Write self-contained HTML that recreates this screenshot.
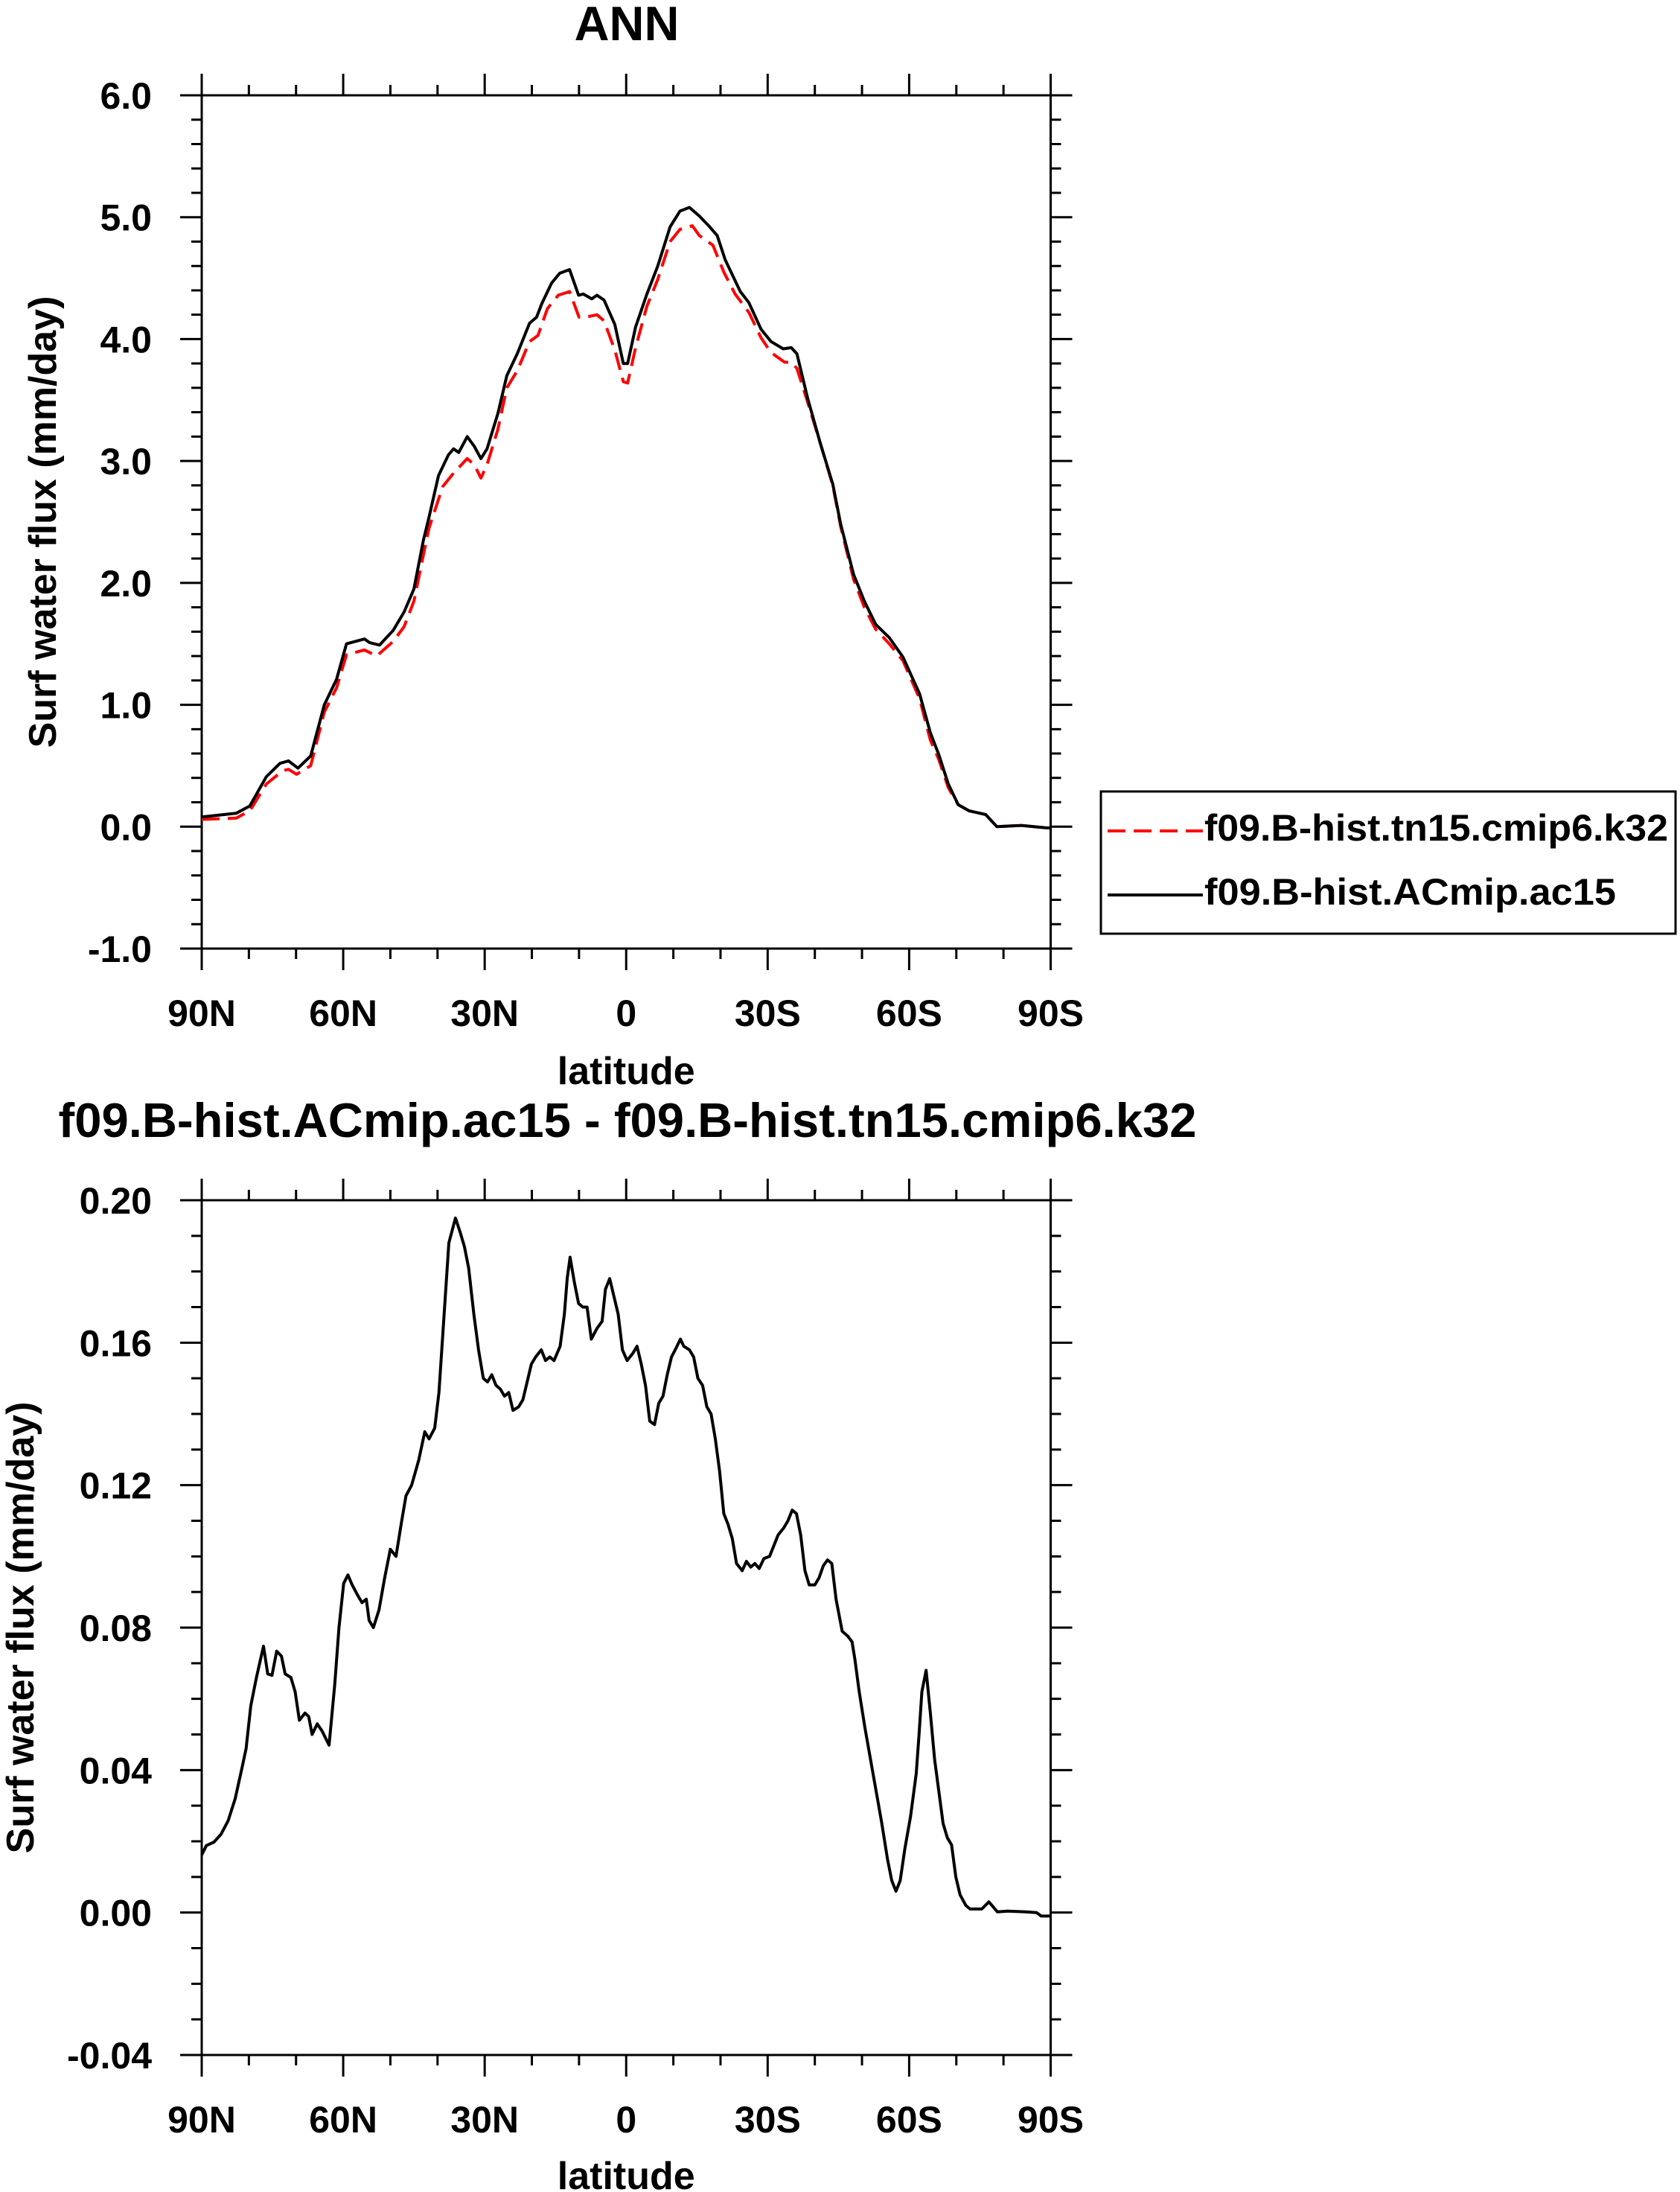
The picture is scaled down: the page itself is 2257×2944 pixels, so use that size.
<!DOCTYPE html>
<html><head><meta charset="utf-8"><style>
html,body{margin:0;padding:0;background:#fff;}
svg{display:block;font-family:"Liberation Sans",Arial,sans-serif;font-weight:bold;}
</style></head><body>
<svg id="fig" width="2257" height="2944" viewBox="0 0 2257 2944" xmlns="http://www.w3.org/2000/svg">
<rect width="2257" height="2944" fill="#fff"/>
<g id="top"></g>
<g id="bot"></g>
</svg>
<script>
// ---- data (latitude in degrees, +N / -S) ----
const latTicks = [90,60,30,0,-30,-60,-90];
const latTickLabels = ["90N","60N","30N","0","30S","60S","90S"];
const topYTicks = [-1,0,1,2,3,4,5,6];
const topYTickLabels = ["-1.0","0.0","1.0","2.0","3.0","4.0","5.0","6.0"];
const botYTicks = [-0.04,0,0.04,0.08,0.12,0.16,0.20];
const botYTickLabels = ["-0.04","0.00","0.04","0.08","0.12","0.16","0.20"];

const blackLat = [90,82.7,79.8,76.3,73.4,71.6,69.6,66.9,64.0,61.4,59.3,55.5,54.4,52.3,49.4,47.1,45.0,43.0,41.8,39.8,37.7,36.6,35.5,33.7,32.2,30.8,29.5,27.2,25.3,23.1,20.5,19.0,17.9,15.8,14.1,12.0,10.1,9.1,7.3,6.2,4.7,2.4,0.6,-0.3,-2.0,-4.4,-6.7,-9.3,-11.4,-13.4,-15.5,-17.5,-19.3,-21.0,-24.2,-26.0,-28.6,-30.7,-33.3,-35.0,-36.2,-38.5,-41.2,-43.8,-45.5,-48.2,-50.5,-52.9,-55.8,-58.7,-62.2,-64.5,-66.3,-68.3,-70.4,-72.7,-76.2,-78.6,-83.8,-89.1,-90];
const blackVal = [0.08,0.11,0.17,0.41,0.52,0.54,0.48,0.58,1.0,1.21,1.50,1.54,1.51,1.49,1.61,1.76,1.95,2.35,2.54,2.88,3.05,3.10,3.07,3.20,3.12,3.02,3.10,3.39,3.70,3.88,4.13,4.18,4.29,4.46,4.54,4.57,4.36,4.37,4.33,4.36,4.32,4.12,3.80,3.80,4.10,4.37,4.60,4.92,5.05,5.08,5.01,4.93,4.85,4.65,4.39,4.30,4.08,3.98,3.92,3.93,3.88,3.51,3.14,2.81,2.48,2.07,1.85,1.66,1.55,1.39,1.09,0.77,0.59,0.35,0.18,0.13,0.10,0.0,0.01,-0.01,-0.01];

const redLat = [90,82.7,79.8,76.3,72.8,71.6,69.9,66.9,64.0,61.4,59.3,55.5,52.9,49.4,47.1,45.0,43.0,41.8,38.9,36.6,33.7,32.2,30.8,29.5,27.2,25.3,23.1,20.5,18.7,16.7,14.4,12.0,10.0,8.5,6.2,4.7,2.4,0.6,-0.3,-2.0,-4.4,-6.7,-9.3,-11.4,-14.0,-15.5,-18.4,-20.7,-23.1,-26.0,-28.6,-30.7,-33.6,-35.0,-36.2,-38.5,-41.2,-43.8,-45.5,-48.2,-50.5,-52.9,-55.8,-58.7,-62.2,-64.5,-66.3,-68.3,-70.4,-72.7,-76.2,-78.6,-83.8,-89.1,-90];
const redVal = [0.06,0.07,0.13,0.35,0.46,0.47,0.43,0.50,0.94,1.14,1.41,1.45,1.40,1.52,1.64,1.85,2.23,2.45,2.79,2.90,3.02,2.97,2.86,2.97,3.26,3.60,3.74,3.98,4.03,4.25,4.36,4.39,4.18,4.18,4.20,4.15,3.91,3.65,3.64,3.93,4.27,4.49,4.80,4.90,4.93,4.85,4.77,4.55,4.37,4.22,4.01,3.89,3.81,3.81,3.76,3.48,3.14,2.80,2.46,2.03,1.80,1.62,1.50,1.36,1.05,0.71,0.55,0.32,0.18,0.13,0.10,0.0,0.01,-0.01,-0.01];

const diffLat = [90,89.0,87.4,85.9,84.4,82.9,81.4,80.6,79.6,78.4,76.9,76.0,75.1,74.1,73.1,72.3,71.1,70.2,69.3,68.1,67.3,66.6,65.5,64.5,63.0,61.8,60.9,59.9,59.0,58.1,56.9,56.0,55.1,54.5,53.6,52.4,51.2,50.0,48.8,47.6,46.7,45.5,44.0,42.7,41.8,40.6,39.7,38.8,37.6,36.2,35.2,34.3,33.4,32.3,31.3,30.3,29.4,28.5,27.6,26.7,25.8,24.9,24.0,22.8,21.9,21.0,20.1,19.2,18.0,17.1,16.2,15.3,14.0,13.1,12.5,11.9,11.0,10.1,9.2,8.3,7.4,6.2,5.1,4.4,3.5,2.6,1.7,0.8,-0.2,-1.4,-2.3,-3.2,-4.1,-5.0,-6.0,-6.9,-7.8,-8.7,-9.6,-10.4,-11.5,-12.2,-13.4,-14.3,-15.2,-16.2,-17.1,-18.0,-18.9,-19.8,-20.7,-21.6,-22.5,-23.4,-24.6,-25.5,-26.4,-27.3,-28.2,-29.2,-30.4,-31.3,-32.2,-33.4,-34.3,-35.2,-36.1,-37.0,-37.9,-38.8,-40.0,-40.9,-41.8,-42.7,-43.6,-44.5,-45.8,-47.0,-47.9,-48.5,-49.4,-50.6,-51.8,-53.0,-54.2,-55.4,-56.3,-57.2,-58.1,-59.1,-60.3,-61.5,-62.1,-62.7,-63.6,-64.5,-65.4,-66.3,-67.2,-68.1,-69.0,-69.9,-70.8,-72.0,-72.9,-75.4,-76.9,-78.7,-80.9,-84.7,-87.0,-88.0,-90];
const diffVal = [0.0162,0.0188,0.0198,0.022,0.0258,0.032,0.041,0.046,0.058,0.066,0.0748,0.067,0.0666,0.0734,0.072,0.067,0.066,0.062,0.054,0.056,0.055,0.050,0.053,0.051,0.047,0.064,0.080,0.0924,0.0948,0.092,0.089,0.087,0.088,0.082,0.080,0.085,0.094,0.102,0.100,0.110,0.117,0.120,0.127,0.135,0.133,0.136,0.146,0.164,0.188,0.195,0.191,0.187,0.181,0.168,0.158,0.150,0.149,0.151,0.148,0.147,0.145,0.146,0.141,0.142,0.144,0.149,0.154,0.156,0.158,0.155,0.156,0.155,0.159,0.168,0.178,0.184,0.177,0.171,0.170,0.170,0.161,0.164,0.166,0.175,0.178,0.173,0.168,0.158,0.155,0.157,0.159,0.154,0.148,0.138,0.137,0.143,0.145,0.151,0.156,0.158,0.161,0.159,0.158,0.156,0.150,0.148,0.142,0.140,0.133,0.124,0.112,0.109,0.105,0.098,0.096,0.0986,0.097,0.098,0.0966,0.0994,0.100,0.103,0.106,0.108,0.110,0.113,0.112,0.106,0.096,0.092,0.092,0.094,0.0974,0.099,0.098,0.088,0.079,0.0776,0.076,0.071,0.062,0.052,0.043,0.034,0.025,0.015,0.009,0.006,0.009,0.018,0.027,0.039,0.050,0.062,0.068,0.056,0.043,0.034,0.025,0.021,0.019,0.010,0.005,0.002,0.001,0.001,0.003,0.0002,0.0004,0.0002,0.0,-0.001,-0.001];

const NS = "http://www.w3.org/2000/svg";
function mk(parent, tag, attrs, text){
  const e = document.createElementNS(NS, tag);
  for (const k in attrs) e.setAttribute(k, attrs[k]);
  if (text !== undefined) e.textContent = text;
  parent.appendChild(e);
  return e;
}

function drawPanel(g, box, ymin, ymax, yMinorStep, yTicks, yLabels, ylabelX, titleY){
  const L=box.l, R=box.r, T=box.t, B=box.b;
  const xs = lat => L + (90 - lat) / 180 * (R - L);
  const ys = v => B - (v - ymin) / (ymax - ymin) * (B - T);
  const frame = mk(g,'rect',{x:L,y:T,width:R-L,height:B-T,fill:'none',stroke:'#000','stroke-width':3});
  
  
  let d='';
  // x ticks (minor every 10, major every 30), outward on bottom and top
  for (let lat=90; lat>=-90; lat-=10){
    const x = xs(lat); const len = (lat%30===0)?29:14;
    d += `M${x},${B}v${len}M${x},${T}v${-len}`;
  }
  const nMinor = Math.round((ymax-ymin)/yMinorStep);
  for (let i=0;i<=nMinor;i++){
    const v = ymin + i*yMinorStep; const y = ys(v);
    const isMajor = yTicks.some(t=>Math.abs(t-v)<1e-6);
    const len = isMajor?29:14;
    d += `M${L},${y}h${-len}M${R},${y}h${len}`;
  }
  const ticks = mk(g,'path',{d:d,stroke:'#000','stroke-width':3,fill:'none'});
  
  
  latTicks.forEach((lat,i)=>{
    const t = mk(g,'text',{x:xs(lat),y:B+104,'font-size':50,'text-anchor':'middle'},latTickLabels[i]);
    
    
  });
  yTicks.forEach((v,i)=>{
    const t = mk(g,'text',{x:204,y:ys(v)+18,'font-size':50,'text-anchor':'end'},yLabels[i]);
    
    
  });
  const xt = mk(g,'text',{x:(L+R)/2,y:titleY,'font-size':52,'text-anchor':'middle'},'latitude');
  
  
  const cy=(T+B)/2;
  const yt = mk(g,'text',{x:ylabelX,y:cy,'font-size':52,'text-anchor':'middle',transform:`rotate(-90 ${ylabelX} ${cy})`},'Surf water flux (mm/day)');
  
  
  return {xs, ys};
}
function linePath(xs, ys, lats, vals){
  return lats.map((la,i)=>(i?'L':'M')+xs(la).toFixed(1)+','+ys(vals[i]).toFixed(1)).join('');
}

// ---- top panel ----
const gt = document.getElementById('top');
const tt = mk(gt,'text',{x:842,y:54,'font-size':65,'text-anchor':'middle'},'ANN');


const A = drawPanel(gt,{l:271,r:1411.5,t:128,b:1274},-1,6,0.2,topYTicks,topYTickLabels,75,1456);
const red = mk(gt,'path',{d:linePath(A.xs,A.ys,redLat,redVal),fill:'none',stroke:'#ff0000','stroke-width':4,'stroke-dasharray':'24 11','stroke-linejoin':'round'});


const blk = mk(gt,'path',{d:linePath(A.xs,A.ys,blackLat,blackVal),fill:'none',stroke:'#000','stroke-width':4,'stroke-linejoin':'round'});



// legend
const lg = mk(gt,'g',{});


mk(lg,'rect',{x:1479,y:1063,width:772,height:191,fill:'#fff',stroke:'#000','stroke-width':3});
const l1 = mk(lg,'line',{x1:1488,y1:1116,x2:1616,y2:1116,stroke:'#ff0000','stroke-width':4,'stroke-dasharray':'24 11'});


const t1 = mk(lg,'text',{x:1618,y:1129,'font-size':50,textLength:623,lengthAdjust:'spacingAndGlyphs'},'f09.B-hist.tn15.cmip6.k32');


const l2 = mk(lg,'line',{x1:1488,y1:1202,x2:1616,y2:1202,stroke:'#000','stroke-width':4});


const t2 = mk(lg,'text',{x:1618,y:1215,'font-size':50,textLength:553,lengthAdjust:'spacingAndGlyphs'},'f09.B-hist.ACmip.ac15');



// ---- bottom panel ----
const gb = document.getElementById('bot');
const bt = mk(gb,'text',{x:843,y:1527,'font-size':65,'text-anchor':'middle',textLength:1529,lengthAdjust:'spacingAndGlyphs'},'f09.B-hist.ACmip.ac15 - f09.B-hist.tn15.cmip6.k32');


const Bp = drawPanel(gb,{l:271,r:1411.5,t:1612,b:2760},-0.04,0.20,0.01,botYTicks,botYTickLabels,45,2940);
const dl = mk(gb,'path',{d:linePath(Bp.xs,Bp.ys,diffLat,diffVal),fill:'none',stroke:'#000','stroke-width':4,'stroke-linejoin':'round'});


</script>
</body></html>
